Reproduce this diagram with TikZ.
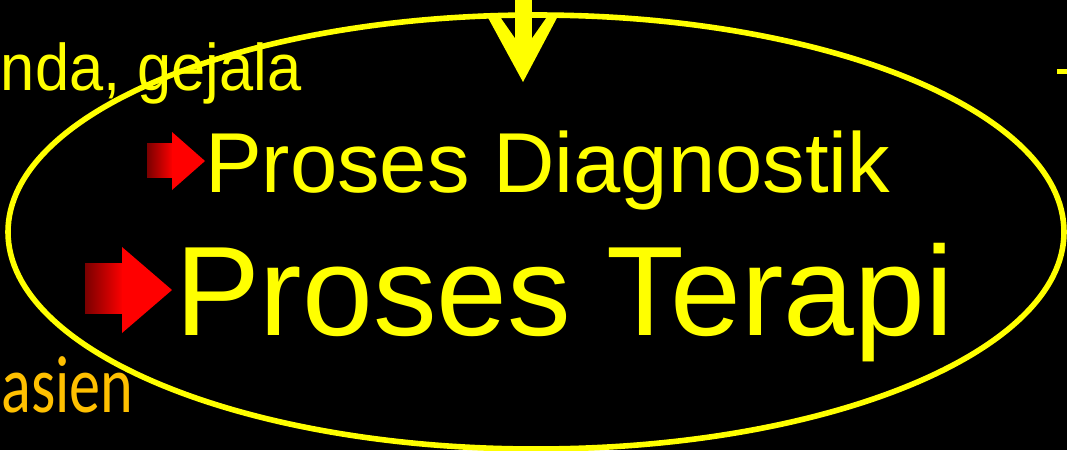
\documentclass[tikz,border=0pt]{standalone}
\usepackage{fontspec}
\setmainfont{Liberation Sans}
\newfontfamily\calfont{Carlito}
\definecolor{ylw}{HTML}{FFFF00}
\definecolor{org}{HTML}{FFC000}
\definecolor{dred}{HTML}{7A0000}
\definecolor{bred}{HTML}{FF0000}
\tikzset{
  txt/.style={inner sep=0pt, outer sep=0pt, text=ylw},
  shaftbox/.style={left color=dred, right color=bred, draw=none},
  headbox/.style={fill=bred, draw=none},
}
\begin{document}
\begin{tikzpicture}[x=0.75pt, y=-0.75pt]
\useasboundingbox (0,0) rectangle (1067,450);
\fill[black] (0,0) rectangle (1067,450);
% top arrow
\fill[ylw] (486,14) -- (559,14) -- (523,82) -- cycle;
\fill[black] (501,18) -- (515,18) -- (515,38) -- cycle;
\fill[black] (532,18) -- (546,18) -- (532,38) -- cycle;
\fill[ylw] (515,0) rectangle (532,60);
% ellipse
\draw[ylw, line width=4.2pt] (536,232) ellipse [x radius=528, y radius=217];
% texts
\node[txt, anchor=base west, xscale=0.93, font=\fontsize{49.5}{50}\selectfont] (gej) at (1,90) {nda, gejala};
\node[txt, anchor=base west, font=\fontsize{63.8}{64}\selectfont] (diag) at (205,192) {Proses Diagnostik};
\node[txt, anchor=base west, font=\fontsize{95.5}{96}\selectfont] (ter) at (175,335) {Proses Terapi};
\node[inner sep=0pt, anchor=base west, text=org, font=\calfont\fontsize{53}{54}\selectfont, xscale=0.88, yscale=1.15] (pas) at (1,412) {asien};
% right dash
\fill[ylw] (1057,69) rectangle (1067,74);
% red arrows
\shade[shaftbox] (147,143) rectangle (173,177);
\fill[headbox] (172,132) -- (205,161) -- (172,190) -- cycle;
\shade[shaftbox] (85,263) rectangle (123,313);
\fill[headbox] (122,247) -- (172,290) -- (122,333) -- cycle;
\end{tikzpicture}
\end{document}
